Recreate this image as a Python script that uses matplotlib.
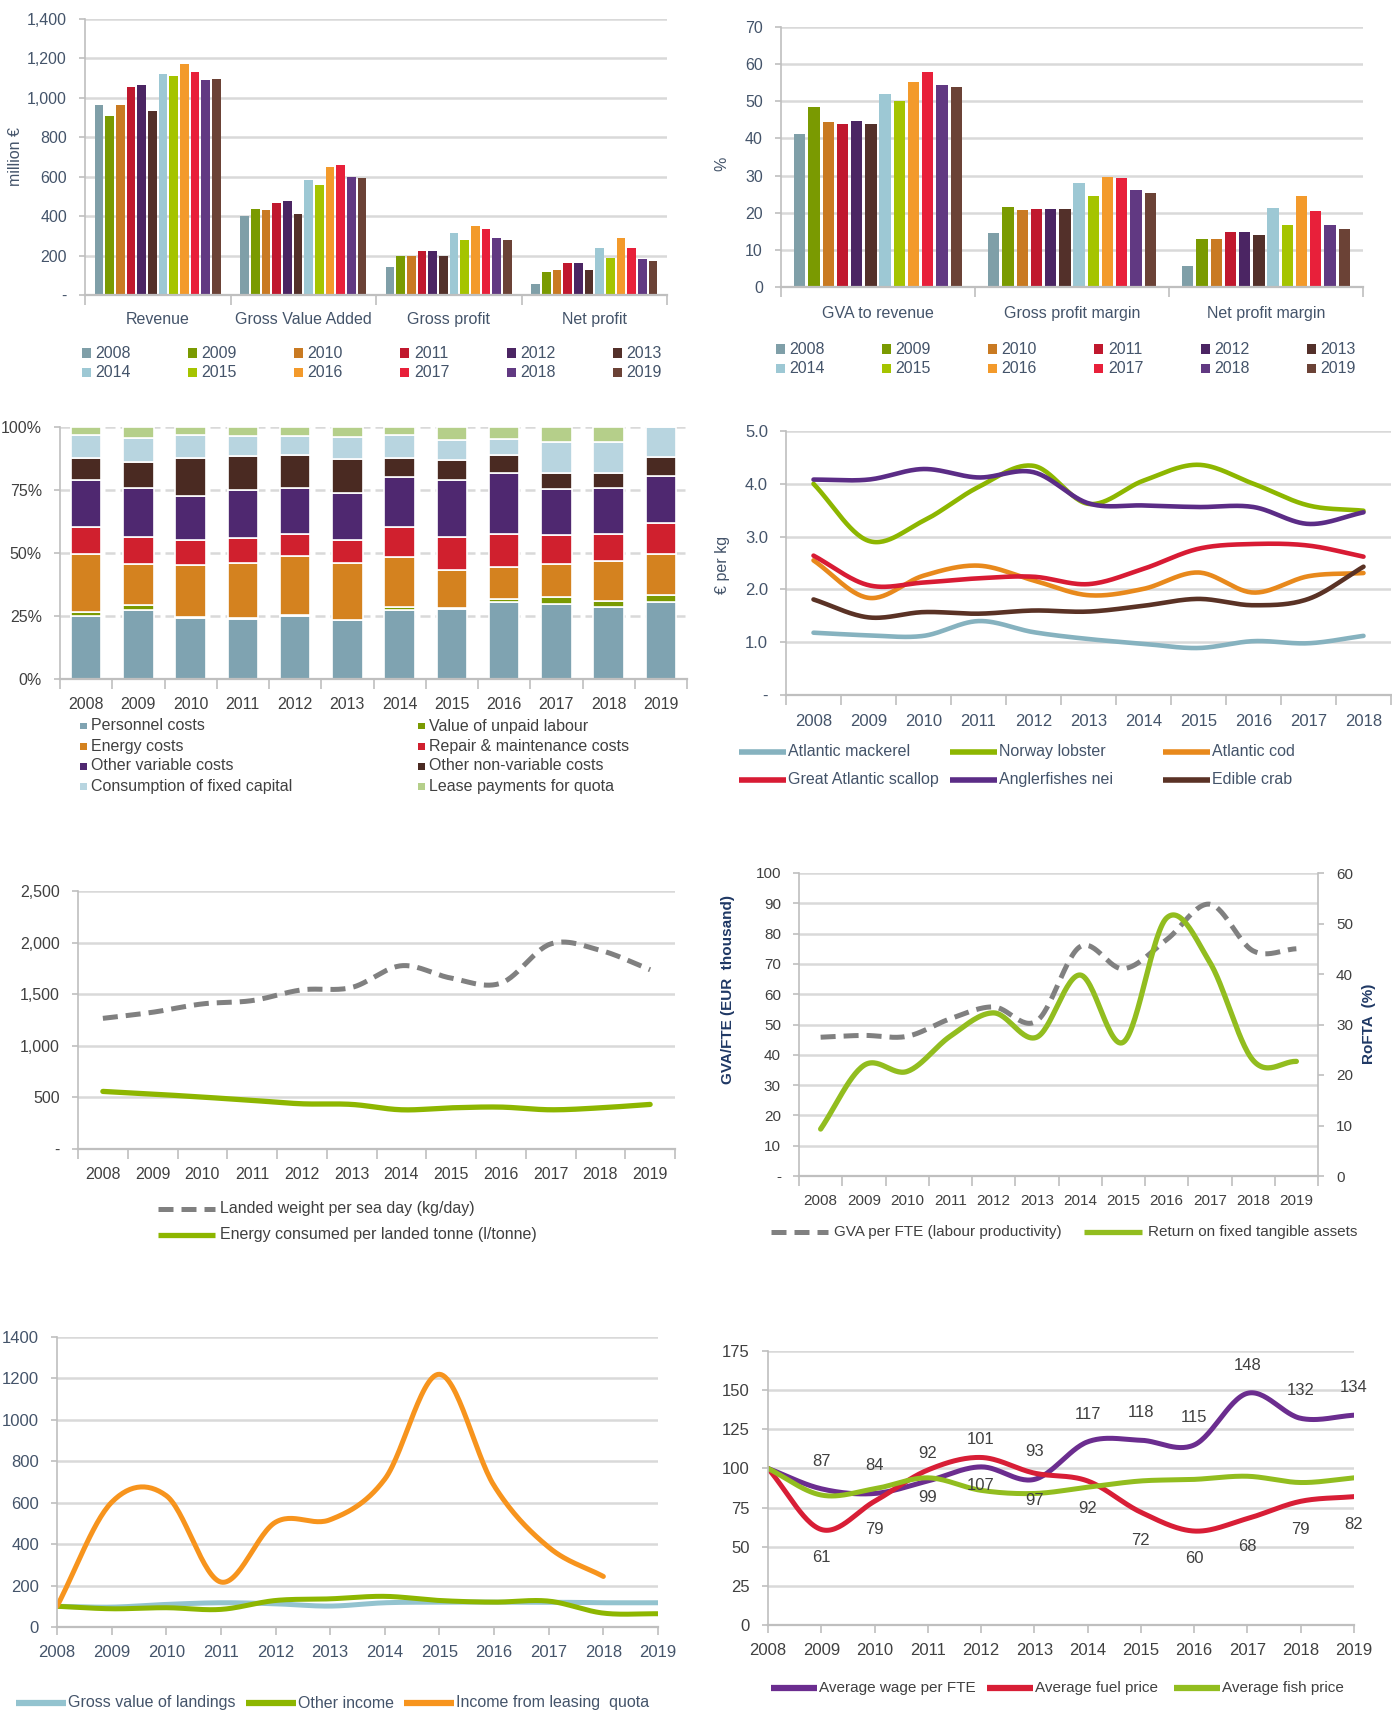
import numpy as np
import matplotlib
matplotlib.use("Agg")
import matplotlib.pyplot as plt
from matplotlib.lines import Line2D
from matplotlib.patches import Rectangle
from matplotlib.ticker import FuncFormatter

plt.rcParams['font.family'] = ['Liberation Sans', 'DejaVu Sans']

# ---------------- DATA ----------------
years = list(range(2008, 2020))
year_labels = [str(y) for y in years]
year_colors = ['#7F9FA8', '#7A9A01', '#C97A22', '#C0182E', '#4B2563', '#53302A',
               '#9DC8D4', '#A5C400', '#F39A2B', '#E8203A', '#613982', '#6B4236']

# Panel 1 (million EUR)
p1_categories = ['Revenue', 'Gross Value Added', 'Gross profit', 'Net profit']
p1_revenue = [966, 906, 966, 1054, 1066, 934, 1120, 1110, 1171, 1132, 1090, 1095]
p1_gva = [399, 438, 433, 465, 477, 411, 581, 560, 648, 659, 598, 593]
p1_gross_profit = [141, 200, 200, 224, 224, 197, 317, 278, 350, 333, 290, 278]
p1_net_profit = [58, 119, 129, 163, 163, 129, 239, 190, 289, 236, 185, 173]

# Panel 2 (%)
p2_categories = ['GVA to revenue', 'Gross profit margin', 'Net profit margin']
p2_gva_to_revenue = [41.1, 48.4, 44.3, 44.0, 44.6, 43.8, 51.9, 50.1, 55.1, 57.8, 54.4, 53.9]
p2_gross_margin = [14.6, 21.6, 20.7, 21.0, 21.0, 21.0, 28.0, 24.4, 29.7, 29.4, 26.2, 25.3]
p2_net_margin = [5.6, 12.8, 12.8, 14.8, 14.8, 14.0, 21.3, 16.6, 24.4, 20.4, 16.6, 15.6]

# Panel 3 (cost structure, % of total)
cost_names = ['Personnel costs', 'Value of unpaid labour', 'Energy costs',
              'Repair & maintenance costs', 'Other variable costs',
              'Other non-variable costs', 'Consumption of fixed capital',
              'Lease payments for quota']
cost_colors = ['#7FA3B1', '#7A9A01', '#D4821F', '#D0202E', '#4F2870', '#4A2A22',
               '#B8D5E0', '#B5CF8A']
personnel = [25.0, 27.3, 24.4, 24.0, 25.0, 23.3, 27.3, 27.7, 30.5, 29.6, 28.7, 30.5]
unpaid_labour = [1.5, 2.0, 0.3, 0.3, 0.3, 0.3, 1.1, 0.5, 1.4, 3.1, 2.4, 2.8]
energy = [23.2, 16.3, 20.4, 21.7, 23.4, 22.4, 19.9, 15.0, 12.5, 12.8, 15.6, 16.4]
repair = [10.6, 10.8, 10.2, 10.0, 8.8, 9.3, 12.0, 13.2, 13.1, 11.6, 10.9, 12.3]
other_variable = [18.5, 19.2, 17.5, 18.9, 18.2, 18.7, 19.7, 22.7, 24.4, 18.2, 18.0, 18.7]
other_non_variable = [8.8, 10.7, 14.8, 13.4, 13.2, 13.3, 7.6, 7.8, 7.0, 6.6, 6.3, 7.3]
fixed_capital = [9.4, 9.3, 9.4, 8.1, 7.5, 8.7, 9.4, 7.8, 6.4, 12.1, 12.1, 12.0]
lease_quota = [3.0, 4.4, 3.0, 3.6, 3.6, 4.0, 3.0, 5.3, 4.7, 6.0, 6.0, 0.0]

# Panel 4 (EUR per kg), 2008-2018
p4_years = list(range(2008, 2019))
species = ['Atlantic mackerel', 'Norway lobster', 'Atlantic cod',
           'Great Atlantic scallop', 'Anglerfishes nei', 'Edible crab']
species_colors = ['#86B2BF', '#8DB600', '#E8891C', '#D81B34', '#5B2C86', '#5A3225']
mackerel = [1.18, 1.13, 1.12, 1.40, 1.19, 1.06, 0.97, 0.89, 1.02, 0.98, 1.12]
lobster = [4.00, 2.92, 3.30, 3.94, 4.34, 3.62, 4.06, 4.36, 4.00, 3.59, 3.49]
cod = [2.55, 1.84, 2.26, 2.45, 2.17, 1.89, 2.01, 2.32, 1.94, 2.25, 2.31]
scallop = [2.64, 2.08, 2.13, 2.21, 2.24, 2.10, 2.39, 2.77, 2.86, 2.83, 2.62]
anglerfish = [4.08, 4.08, 4.28, 4.12, 4.22, 3.63, 3.59, 3.56, 3.56, 3.24, 3.46]
edible_crab = [1.81, 1.47, 1.57, 1.54, 1.60, 1.58, 1.69, 1.82, 1.70, 1.82, 2.43]

# Panel 5
landed_weight = [1266, 1325, 1406, 1438, 1542, 1565, 1776, 1656, 1607, 1987, 1925, 1737]
energy_per_tonne = [558, 532, 503, 471, 438, 432, 380, 399, 406, 380, 399, 432]

# Panel 6
gva_per_fte = [45.8, 46.4, 46.1, 51.9, 55.8, 51.2, 75.7, 68.4, 78.0, 89.7, 74.3, 75.0]
rofta = [9.3, 21.9, 20.7, 27.7, 32.3, 27.5, 39.8, 26.5, 51.1, 42.3, 22.9, 22.7]

# Panel 7 (index)
gross_landings = [100, 96, 109, 117, 112, 101, 117, 120, 120, 120, 117, 117]
other_income = [100, 88, 93, 85, 128, 136, 148, 128, 120, 125, 67, 64]
leasing_years = list(range(2008, 2019))
leasing_quota = [100, 602, 634, 217, 506, 518, 714, 1220, 682, 385, 244]

# Panel 8 (index)
avg_wage = [100, 87, 84, 92, 101, 93, 117, 118, 115, 148, 132, 134]
avg_fuel = [100, 61, 79, 99, 107, 97, 92, 72, 60, 68, 79, 82]
avg_fish = [100, 83, 87, 94, 86, 84, 88, 92, 93, 95, 91, 94]

# ---------------- LAYOUT ----------------
W, H = 1392, 1712
fig = plt.figure(figsize=(W / 100, H / 100), dpi=100)

BLUE_TXT = '#44546A'
GREY_TXT = '#404040'
GRID = '#D9D9D9'
SPINE = '#BFBFBF'


def box(l, t, r, b):
    return [l / W, 1 - b / H, (r - l) / W, (b - t) / H]


def fx(px):
    return px / W


def fy(py):
    return 1 - py / H


def smooth(x, y, steps=30):
    x = np.asarray(x, float)
    y = np.asarray(y, float)
    n = len(x)
    px = np.concatenate([[2 * x[0] - x[1]], x, [2 * x[-1] - x[-2]]])
    py = np.concatenate([[2 * y[0] - y[1]], y, [2 * y[-1] - y[-2]]])
    xs, ys = [], []
    for i in range(n - 1):
        t = np.linspace(0, 1, steps, endpoint=(i == n - 2))
        h00 = 2 * t**3 - 3 * t**2 + 1
        h10 = t**3 - 2 * t**2 + t
        h01 = -2 * t**3 + 3 * t**2
        h11 = t**3 - t**2
        mx0 = (px[i + 2] - px[i]) / 2
        mx1 = (px[i + 3] - px[i + 1]) / 2
        my0 = (py[i + 2] - py[i]) / 2
        my1 = (py[i + 3] - py[i + 1]) / 2
        xs.append(h00 * x[i] + h10 * mx0 + h01 * x[i + 1] + h11 * mx1)
        ys.append(h00 * y[i] + h10 * my0 + h01 * y[i + 1] + h11 * my1)
    return np.concatenate(xs), np.concatenate(ys)


def base_axes(ax, tick_color, fs, grid_ls='-'):
    for s in ['top', 'right']:
        ax.spines[s].set_visible(False)
    ax.spines['left'].set_color(SPINE)
    ax.spines['left'].set_linewidth(1.2)
    ax.spines['bottom'].set_color(SPINE)
    ax.spines['bottom'].set_linewidth(1.6)
    ax.tick_params(axis='y', colors=SPINE, labelcolor=tick_color, labelsize=fs,
                   length=4, width=1.2, pad=9)
    ax.grid(axis='y', color=GRID, lw=1.8, ls=grid_ls)
    ax.set_axisbelow(True)


def cat_axis(ax, centers, labels, bounds, fs, color, pad=13):
    ax.set_xticks(bounds)
    ax.set_xticklabels([])
    ax.tick_params(axis='x', which='major', length=7, width=1.2, color=SPINE)
    ax.set_xticks(centers, minor=True)
    ax.set_xticklabels(labels, minor=True)
    ax.tick_params(axis='x', which='minor', length=0, pad=pad, labelsize=fs,
                   labelcolor=color)


def leg_square(xc, yc, color, label, size, dx, fs, tc):
    fig.patches.append(Rectangle((fx(xc - size / 2), fy(yc + size / 2)), size / W, size / H,
                                 transform=fig.transFigure, facecolor=color,
                                 edgecolor='none'))
    fig.text(fx(xc + dx), fy(yc), label, ha='left', va='center', fontsize=fs, color=tc)


def leg_line(x0, x1, yc, color, label, lw, ls, fs, tc, gap=3):
    fig.add_artist(Line2D([fx(x0), fx(x1)], [fy(yc), fy(yc)], transform=fig.transFigure,
                          color=color, lw=lw, ls=ls, solid_capstyle='butt'))
    fig.text(fx(x1 + gap), fy(yc), label, ha='left', va='center', fontsize=fs, color=tc)


dash_fmt = lambda fmt: FuncFormatter(lambda v, p: '-' if abs(v) < 1e-9 else fmt(v))

# ---------------- PANEL 1 ----------------
ax1 = fig.add_axes(box(85, 19, 667, 295))
base_axes(ax1, BLUE_TXT, 11.5)
data1 = np.array([p1_revenue, p1_gva, p1_gross_profit, p1_net_profit])
pitch = 0.88 / 12
xc = np.arange(len(p1_categories))
for j in range(12):
    ax1.bar(xc + (j - 5.5) * pitch, data1[:, j], width=pitch * 0.8, color=year_colors[j])
ax1.set_xlim(-0.5, 3.5)
ax1.set_ylim(0, 1400)
ax1.set_yticks(np.arange(0, 1401, 200))
ax1.yaxis.set_major_formatter(dash_fmt(lambda v: f'{v:,.0f}'))
cat_axis(ax1, xc, p1_categories, np.arange(-0.5, 3.6, 1), 11.5, BLUE_TXT, pad=12)
fig.text(fx(16), fy(156), 'million €', rotation=90, ha='center', va='center',
         fontsize=11.5, color=BLUE_TXT)
for j in range(12):
    leg_square(86 + (j % 6) * 106.3, 353 + (j // 6) * 19.5, year_colors[j], year_labels[j],
               9, 9, 11.5, BLUE_TXT)

# ---------------- PANEL 2 ----------------
ax2 = fig.add_axes(box(781, 27, 1363, 287))
base_axes(ax2, BLUE_TXT, 11.5)
data2 = np.array([p2_gva_to_revenue, p2_gross_margin, p2_net_margin])
xc2 = np.arange(len(p2_categories))
for j in range(12):
    ax2.bar(xc2 + (j - 5.5) * pitch, data2[:, j], width=pitch * 0.8, color=year_colors[j])
ax2.set_xlim(-0.5, 2.5)
ax2.set_ylim(0, 70)
ax2.set_yticks(np.arange(0, 71, 10))
cat_axis(ax2, xc2, p2_categories, np.arange(-0.5, 2.6, 1), 11.5, BLUE_TXT, pad=14)
fig.text(fx(722), fy(164), '%', rotation=90, ha='center', va='center',
         fontsize=11.5, color=BLUE_TXT)
for j in range(12):
    leg_square(780 + (j % 6) * 106.3, 349 + (j // 6) * 19.5, year_colors[j], year_labels[j],
               9, 9, 11.5, BLUE_TXT)

# ---------------- PANEL 3 ----------------
ax3 = fig.add_axes(box(60, 427, 687, 679))
base_axes(ax3, GREY_TXT, 11.5, grid_ls=(0, (4, 2)))
x3 = np.arange(len(years))
stack = [personnel, unpaid_labour, energy, repair, other_variable, other_non_variable,
         fixed_capital, lease_quota]
bottom = np.zeros(len(years))
for vals, col, name in zip(stack, cost_colors, cost_names):
    ax3.bar(x3, vals, bottom=bottom, width=0.58, color=col, edgecolor='white', linewidth=1.2,
            label=name)
    bottom += np.asarray(vals)
ax3.set_xlim(-0.5, 11.5)
ax3.set_ylim(0, 100)
ax3.set_yticks([0, 25, 50, 75, 100])
ax3.yaxis.set_major_formatter(FuncFormatter(lambda v, p: f'{v:.0f}%'))
cat_axis(ax3, x3, year_labels, np.arange(-0.5, 11.6, 1), 11.5, GREY_TXT)
leg_order = [0, 2, 4, 6, 1, 3, 5, 7]
for k, idx in enumerate(leg_order):
    col = k // 4
    row = k % 4
    leg_square(83 + col * 338, 726 + row * 20, cost_colors[idx], cost_names[idx], 7, 8,
               11.5, GREY_TXT)

# ---------------- PANEL 4 ----------------
ax4 = fig.add_axes(box(786, 431, 1391, 695))
base_axes(ax4, BLUE_TXT, 12)
series4 = [mackerel, lobster, cod, scallop, anglerfish, edible_crab]
for vals, col in zip(series4, species_colors):
    sx, sy = smooth(p4_years, vals)
    ax4.plot(sx, sy, color=col, lw=3.3, solid_capstyle='round')
ax4.set_xlim(2007.5, 2018.5)
ax4.set_ylim(0, 5)
ax4.set_yticks(np.arange(0, 5.1, 1))
ax4.yaxis.set_major_formatter(dash_fmt(lambda v: f'{v:.1f}'))
cat_axis(ax4, p4_years, [str(y) for y in p4_years], np.arange(2007.5, 2018.6, 1), 12,
         BLUE_TXT, pad=14)
fig.text(fx(723), fy(565), '€ per kg', rotation=90, ha='center', va='center',
         fontsize=11.5, color=BLUE_TXT)
leg4_x = [739, 950, 1163]
for k in range(6):
    col = k % 3
    row = k // 3
    leg_line(leg4_x[col], leg4_x[col] + 47, 752 + row * 27.5, species_colors[k], species[k],
             4, '-', 11.5, BLUE_TXT, gap=2)

# ---------------- PANEL 5 ----------------
ax5 = fig.add_axes(box(78, 891, 675, 1149))
base_axes(ax5, GREY_TXT, 11.5)
sx, sy = smooth(years, landed_weight)
ax5.plot(sx, sy, color='#808080', lw=3.6, ls=(0, (3, 1.6)))
sx, sy = smooth(years, energy_per_tonne)
ax5.plot(sx, sy, color='#8DB600', lw=3.8, solid_capstyle='round')
ax5.set_xlim(2007.5, 2019.5)
ax5.set_ylim(0, 2500)
ax5.set_yticks(np.arange(0, 2501, 500))
ax5.yaxis.set_major_formatter(dash_fmt(lambda v: f'{v:,.0f}'))
cat_axis(ax5, years, year_labels, np.arange(2007.5, 2019.6, 1), 11.5, GREY_TXT)
leg_line(158, 215, 1209, '#808080', 'Landed weight per sea day (kg/day)', 3.6,
         (0, (3, 1.6)), 11.5, GREY_TXT, gap=5)
leg_line(158, 215, 1235, '#8DB600', 'Energy consumed per landed tonne (l/tonne)', 3.8,
         '-', 11.5, GREY_TXT, gap=5)

# ---------------- PANEL 6 ----------------
ax6 = fig.add_axes(box(799, 873, 1318, 1176))
base_axes(ax6, GREY_TXT, 11)
ax6r = ax6.twinx()
sx, sy = smooth(years, gva_per_fte)
ax6.plot(sx, sy, color='#808080', lw=3.6, ls=(0, (3, 1.6)))
sx, sy = smooth(years, rofta)
ax6r.plot(sx, sy, color='#92BD1F', lw=3.8, solid_capstyle='round')
ax6.set_xlim(2007.5, 2019.5)
ax6.set_ylim(0, 100)
ax6.set_yticks(np.arange(0, 101, 10))
ax6.yaxis.set_major_formatter(dash_fmt(lambda v: f'{v:.0f}'))
ax6r.set_ylim(0, 60)
ax6r.set_yticks(np.arange(0, 61, 10))
for s in ['top', 'left', 'bottom']:
    ax6r.spines[s].set_visible(False)
ax6r.spines['right'].set_color(SPINE)
ax6r.spines['right'].set_linewidth(1.2)
ax6r.tick_params(axis='y', colors=SPINE, labelcolor=GREY_TXT, labelsize=11, length=4,
                 width=1.2, pad=9)
cat_axis(ax6, years, year_labels, np.arange(2007.5, 2019.6, 1), 11, GREY_TXT)
fig.text(fx(728), fy(989), 'GVA/FTE (EUR  thousand)', rotation=90, ha='center',
         va='center', fontsize=11, color='#1F3864', fontweight='bold')
fig.text(fx(1369), fy(1024), 'RoFTA  (%)', rotation=90, ha='center', va='center',
         fontsize=11, color='#1F3864', fontweight='bold')
leg_line(771, 828, 1232, '#808080', 'GVA per FTE (labour productivity)', 3.6,
         (0, (3, 1.6)), 11, GREY_TXT, gap=6)
leg_line(1084, 1142, 1232, '#92BD1F', 'Return on fixed tangible assets', 3.8, '-', 11,
         GREY_TXT, gap=6)

# ---------------- PANEL 7 ----------------
ax7 = fig.add_axes(box(57, 1337, 658, 1627))
base_axes(ax7, BLUE_TXT, 12)
c7 = ['#93C3CF', '#8DB600', '#F7941D']
for xs_, vals, col in [(years, gross_landings, c7[0]), (years, other_income, c7[1]),
                       (leasing_years, leasing_quota, c7[2])]:
    sx, sy = smooth(xs_, vals)
    ax7.plot(sx, sy, color=col, lw=3.6, solid_capstyle='round')
ax7.set_xlim(2008, 2019)
ax7.set_ylim(0, 1400)
ax7.set_yticks(np.arange(0, 1401, 200))
ax7.set_xticks(years)
ax7.set_xticklabels(year_labels)
ax7.tick_params(axis='x', length=6, width=1.2, color=SPINE, labelcolor=BLUE_TXT,
                labelsize=12, pad=7)
leg7 = ['Gross value of landings', 'Other income', 'Income from leasing  quota']
leg7_x = [16, 246, 404]
for k in range(3):
    leg_line(leg7_x[k], leg7_x[k] + 50, 1703, c7[k], leg7[k], 4.5, '-', 11.5, BLUE_TXT,
             gap=2)

# ---------------- PANEL 8 ----------------
ax8 = fig.add_axes(box(768, 1351, 1354, 1625))
base_axes(ax8, GREY_TXT, 12)
c8 = ['#6B2D8F', '#D81E36', '#92BD1F']
for vals, col in [(avg_wage, c8[0]), (avg_fuel, c8[1]), (avg_fish, c8[2])]:
    sx, sy = smooth(years, vals)
    ax8.plot(sx, sy, color=col, lw=3.6, solid_capstyle='round')
for i in range(1, len(years)):
    ax8.annotate(str(avg_wage[i]), (years[i], avg_wage[i]), xytext=(0, 20),
                 textcoords='offset points', ha='center', va='center', fontsize=12,
                 color=GREY_TXT)
    ax8.annotate(str(avg_fuel[i]), (years[i], avg_fuel[i]), xytext=(0, -20),
                 textcoords='offset points', ha='center', va='center', fontsize=12,
                 color=GREY_TXT)
ax8.set_xlim(2008, 2019)
ax8.set_ylim(0, 175)
ax8.set_yticks(np.arange(0, 176, 25))
ax8.set_xticks(years)
ax8.set_xticklabels(year_labels)
ax8.tick_params(axis='x', length=6, width=1.2, color=SPINE, labelcolor=GREY_TXT,
                labelsize=12, pad=7)
leg8 = ['Average wage per FTE', 'Average fuel price', 'Average fish price']
leg8_x = [771, 987, 1174]
for k in range(3):
    leg_line(leg8_x[k], leg8_x[k] + 46, 1688, c8[k], leg8[k], 4.5, '-', 11, GREY_TXT, gap=2)

fig.savefig('out.png', dpi=100)
